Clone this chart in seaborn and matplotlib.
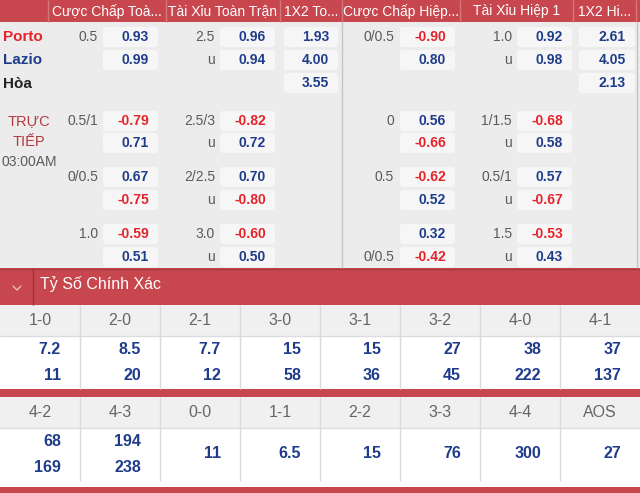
import matplotlib
matplotlib.use('Agg')
import matplotlib.pyplot as plt
from matplotlib.patches import Rectangle, FancyBboxPatch
import seaborn as sns

# header texts
headers = ['Cược Chấp Toà...', 'Tài Xỉu Toàn Trận', '1X2 To...',
           'Cược Chấp Hiệp...', 'Tài Xỉu Hiệp 1', '1X2 Hi...']
teams = ['Porto', 'Lazio', 'Hòa']

# full time: pre-match group first, then the three live groups
ft_hdp_lines = ['0.5', '0.5/1', '0/0.5', '1.0']
ft_hdp_home = [0.93, -0.79, 0.67, -0.59]
ft_hdp_away = [0.99, 0.71, -0.75, 0.51]
ft_ou_lines = ['2.5', '2.5/3', '2/2.5', '3.0']
ft_ou_over = [0.96, -0.82, 0.70, -0.60]
ft_ou_under = [0.94, 0.72, -0.80, 0.50]
ft_1x2 = [1.93, 4.00, 3.55]

# first half
ht_hdp_lines = ['0/0.5', '0', '0.5', '0/0.5']
ht_hdp_line_row = [0, 0, 0, 1]
ht_hdp_home = [-0.90, 0.56, -0.62, 0.32]
ht_hdp_away = [0.80, -0.66, 0.52, -0.42]
ht_ou_lines = ['1.0', '1/1.5', '0.5/1', '1.5']
ht_ou_over = [0.92, -0.68, 0.57, -0.53]
ht_ou_under = [0.98, 0.58, -0.67, 0.43]
ht_1x2 = [2.61, 4.05, 2.13]

# correct score
cs_title = 'Tỷ Số Chính Xác'
cs_labels_1 = ['1-0', '2-0', '2-1', '3-0', '3-1', '3-2', '4-0', '4-1']
cs_home_1 = [7.2, 8.5, 7.7, 15, 15, 27, 38, 37]
cs_away_1 = [11, 20, 12, 58, 36, 45, 222, 137]
cs_labels_2 = ['4-2', '4-3', '0-0', '1-1', '2-2', '3-3', '4-4', 'AOS']
cs_home_2 = [68, 194, 11, 6.5, 15, 76, 300, 27]
cs_away_2 = [169, 238, None, None, None, None, None, None]

RED = '#c8464d'
NEG = '#e5232b'
POS = '#1f3c8b'
GREY_TXT = '#5a5a5a'

sns.set_theme(style='white')
plt.rcParams['font.family'] = ['Liberation Sans', 'DejaVu Sans']

fig = plt.figure(figsize=(6.4, 4.93), dpi=100)
ax = fig.add_axes([0, 0, 1, 1])
ax.set_xlim(0, 640)
ax.set_ylim(493, 0)
ax.axis('off')
fig.patch.set_facecolor('white')


def rect(x, y, w, h, c, z=1):
    ax.add_patch(Rectangle((x, y), w, h, facecolor=c, edgecolor='none', zorder=z))


def vline(x, y0, y1, c, lw=1):
    ax.plot([x, x], [y0, y1], color=c, lw=lw, zorder=3, solid_capstyle='butt')


def odds(x0, x1, y, v, fmt='{:.2f}'):
    ax.add_patch(FancyBboxPatch((x0 + 2, y - 8), x1 - x0 - 4, 16,
                                boxstyle='round,pad=2,rounding_size=3',
                                facecolor='#f6f6f6', edgecolor='none', zorder=2))
    ax.text(x1 - 9, y, fmt.format(v), ha='right', va='center', fontsize=10,
            fontweight='bold', color=NEG if v < 0 else POS, zorder=4)


def line_txt(x, y, s):
    ax.text(x, y, s, ha='right', va='center', fontsize=10, color=GREY_TXT, zorder=4)


# top header band
rect(0, 0, 640, 22, RED)
hdr_x = [48, 166, 280, 342, 460, 573, 636]
for x in hdr_x:
    vline(x, 0, 22, '#d4777c')
for i, h in enumerate(headers):
    ax.text((hdr_x[i] + hdr_x[i + 1]) / 2, 11.5, h, ha='center', va='center',
            fontsize=10, color='white', zorder=4)

# odds area
rect(0, 22, 640, 246, '#ececec')
vline(342, 22, 268, '#c4c4c4')
vline(637, 22, 268, '#c4c4c4')

group_y = [(37, 60), (121, 143), (177, 200), (234, 257)]
for g, (y0, y1) in enumerate(group_y):
    # full time
    line_txt(98, y0, ft_hdp_lines[g])
    odds(103, 158, y0, ft_hdp_home[g])
    odds(103, 158, y1, ft_hdp_away[g])
    line_txt(215, y0, ft_ou_lines[g])
    line_txt(215, y1, 'u')
    odds(220, 275, y0, ft_ou_over[g])
    odds(220, 275, y1, ft_ou_under[g])
    # first half
    line_txt(394, (y0, y1)[ht_hdp_line_row[g]], ht_hdp_lines[g])
    odds(400, 455, y0, ht_hdp_home[g])
    odds(400, 455, y1, ht_hdp_away[g])
    line_txt(512, y0, ht_ou_lines[g])
    line_txt(512, y1, 'u')
    odds(517, 572, y0, ht_ou_over[g])
    odds(517, 572, y1, ht_ou_under[g])

for i, yy in enumerate([37, 60, 83]):
    odds(284, 338, yy, ft_1x2[i])
    odds(579, 635, yy, ht_1x2[i])

team_col = [NEG, POS, '#222222']
for i, t in enumerate(teams):
    ax.text(3, [37, 60, 84][i], t, ha='left', va='center', fontsize=11,
            fontweight='bold', color=team_col[i], zorder=4)
ax.text(29, 121, 'TRỰC', ha='center', va='center', fontsize=10.5, color='#b5383e')
ax.text(29, 142, 'TIẾP', ha='center', va='center', fontsize=10.5, color='#b5383e')
ax.text(1, 162, '03:00AM', ha='left', va='center', fontsize=10, color=GREY_TXT)

# correct score band
rect(0, 268, 640, 37, RED)
ax.plot([0, 640], [268.5, 268.5], color='#a83a40', lw=1, zorder=3)
vline(33, 268, 305, '#9e3238')
ax.plot([13, 17, 21], [286, 290, 286], color='#f0c4c7', lw=0.9, zorder=4)
ax.text(40, 284, cs_title, ha='left', va='center', fontsize=11.5, color='white')


def score_table(top, labels, home, away):
    rect(0, top, 640, 31, '#f0f0f0')
    rect(0, top + 31, 640, 53, 'white')
    for c in range(1, 8):
        vline(c * 80, top, top + 84, '#dadada')
    ax.plot([0, 640], [top + 31, top + 31], color='#dcdcdc', lw=1, zorder=3)
    for c, lab in enumerate(labels):
        ax.text(c * 80 + 40, top + 15.5, lab, ha='center', va='center',
                fontsize=11.5, color='#666666', zorder=4)
        if away[c] is None:
            ax.text(c * 80 + 61, top + 57, '{:g}'.format(home[c]), ha='right',
                    va='center', fontsize=11.5, fontweight='bold', color=POS, zorder=4)
        else:
            ax.text(c * 80 + 61, top + 45, '{:g}'.format(home[c]), ha='right',
                    va='center', fontsize=11.5, fontweight='bold', color=POS, zorder=4)
            ax.text(c * 80 + 61, top + 71, '{:g}'.format(away[c]), ha='right',
                    va='center', fontsize=11.5, fontweight='bold', color=POS, zorder=4)


score_table(305, cs_labels_1, cs_home_1, cs_away_1)
rect(0, 389, 640, 8, RED)
score_table(397, cs_labels_2, cs_home_2, cs_away_2)
rect(0, 487, 640, 6, RED)

fig.savefig('out.png', dpi=100)
